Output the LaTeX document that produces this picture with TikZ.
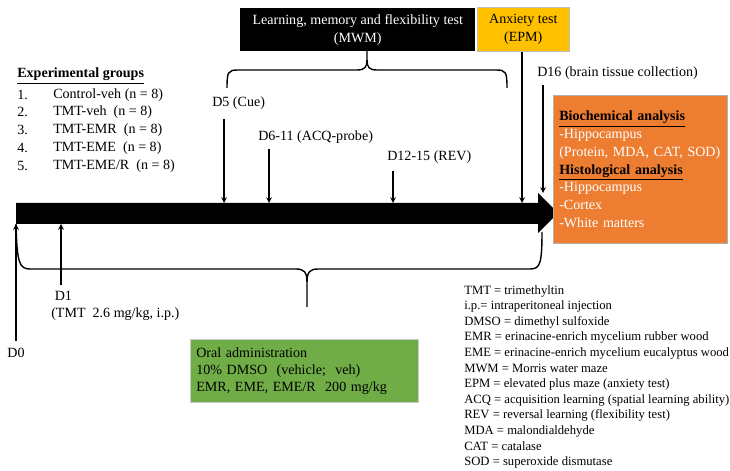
\documentclass[tikz,border=0pt]{standalone}
\usepackage{fontspec}
\setmainfont{Liberation Serif}
\definecolor{anxiety}{HTML}{FFC000}
\definecolor{analysis}{HTML}{ED7D31}
\definecolor{oral}{HTML}{70AD47}
\tikzset{
  lbl/.style={inner sep=0pt, font=\fontsize{10}{12}\selectfont},
  tick/.style={->, line width=0.8pt},
  brace/.style={line width=1pt},
  testbox/.style={inner sep=0pt, align=center, font=\fontsize{10}{12.5}\selectfont},
}
\begin{document}
\begin{tikzpicture}[>=stealth, x=0.025cm, y=-0.025cm]
  \useasboundingbox (0,0) rectangle (730,471);

  % timeline bar with its head
  \fill (16,203) -- (538,203) -- (538,193) -- (558,213) -- (538,233)
    -- (538,224) -- (16,224) -- cycle;
  \coordinate (b0) at (16,224);
  \coordinate (b1) at (61,224);
  \coordinate (t5) at (224,203);
  \coordinate (t6) at (269,203);
  \coordinate (t12) at (393,203);
  \coordinate (tepm) at (522,203);
  \coordinate (t16) at (543,193);

  % tests on top
  \node[testbox, fill=black, text=white, minimum width=235*0.025cm, minimum height=43*0.025cm,
    anchor=north west] (mwm) at (240,8) {Learning,\ memory\ and\ flexibility\ test\\(MWM)};
  \node[testbox, fill=anxiety, draw=black!25, minimum width=92*0.025cm, minimum height=44*0.025cm,
    anchor=north west] (epm) at (477,7) {Anxiety\ test\\(EPM)};
  \coordinate (mwmtip) at (367,51);
  \draw[brace] (227,88) .. controls (227,72) and (228,70) .. (238,70) -- (357,70)
    .. controls (365,70) and (367,67) .. (367,60) -- (mwmtip);
  \draw[brace] (507,88) .. controls (507,72) and (506,70) .. (496,70) -- (377,70)
    .. controls (369,70) and (367,67) .. (367,60);
  \draw[tick] (epm.south -| tepm) -- (tepm);

  % experimental groups
  \node[lbl, anchor=west] (groups) at (17,76) {\underline{\textbf{Experimental\ groups}}};
  \node[lbl, anchor=west] (n1) at (17,95) {1.};
  \node[lbl, anchor=west] (n2) at (17,112) {2.};
  \node[lbl, anchor=west] (n3) at (17,130) {3.};
  \node[lbl, anchor=west] (n4) at (17,148) {4.};
  \node[lbl, anchor=west] (n5) at (17,166) {5.};
  \node[lbl, anchor=west] (g1) at (53,95) {Control-veh\ (n = 8)};
  \node[lbl, anchor=west] (g2) at (53,112) {TMT-veh\ \ (n = 8)};
  \node[lbl, anchor=west] (g3) at (53,130) {TMT-EMR\ \ (n = 8)};
  \node[lbl, anchor=west] (g4) at (53,148) {TMT-EME\ \ (n = 8)};
  \node[lbl, anchor=west] (g5) at (53,166) {TMT-EME/R\ \ (n = 8)};

  % days above the bar
  \node[lbl, anchor=west] (d5) at (212,103) {D5 (Cue)};
  \node[lbl, anchor=west] (d6) at (258,137) {D6-11 (ACQ-probe)};
  \node[lbl, anchor=west] (d12) at (387,157) {D12-15 (REV)};
  \node[lbl, anchor=west] (d16) at (537,73) {D16 (brain\ tissue\ collection)};
  \draw[tick] ([yshift=-7pt]d5.south -| t5) -- (t5);
  \draw[tick] ([yshift=-4pt]d6.south -| t6) -- (t6);
  \draw[tick] ([yshift=-5pt]d12.south -| t12) -- (t12);
  \draw[tick] ([yshift=-4pt]d16.south -| t16) -- (t16);

  % analysis
  \node[fill=analysis, draw=black!30, text=white, anchor=north west, inner xsep=0.15cm,
    text width=4.05cm, minimum height=148*0.025cm, align=left,
    font=\fontsize{10}{12.6}\selectfont] (anal) at (553,95)
    {\textcolor{black}{\underline{\textbf{Biochemical\ analysis}}}\\
     -Hippocampus\\
     \mbox{(Protein, MDA, CAT, SOD)}\\
     \textcolor{black}{\underline{\textbf{Histological\ analysis}}}\\
     -Hippocampus\\
     -Cortex\\
     -White\ matters};

  % days below the bar
  \node[lbl] (d0) at (16,353) {D0};
  \draw[tick] ([yshift=5pt]d0.north) -- (b0);
  \node[lbl, anchor=north west, align=left] (d1) at (51,291) {\ D1\\(TMT\ \ 2.6 mg/kg,\ i.p.)};
  \draw[tick] ([yshift=4pt]d1.north -| b1) -- (b1);

  % oral administration span
  \draw[brace] (b0) .. controls (17,262) and (19,269) .. (30,269) -- (296,269)
    .. controls (304,269) and (307,272) .. (307,282) -- (307,307);
  \draw[brace] (542,232) .. controls (542,264) and (540,269) .. (530,269) -- (318,269)
    .. controls (310,269) and (307,272) .. (307,282);
  \node[fill=oral, draw=black!20, anchor=north west, inner xsep=0.15cm, text width=5.4cm,
    minimum height=63*0.025cm, align=left, font=\fontsize{10}{12}\selectfont] (oral) at (190,339)
    {Oral administration\\
     10\%\ DMSO\ \ (vehicle;\ \ veh)\\
     EMR, EME, EME/R\ \ 200 mg/kg};

  % abbreviations
  \node[inner sep=0pt, anchor=north west, align=left, font=\fontsize{9}{11.1}\selectfont] (abbr) at (464,285)
    {TMT = trimethyltin\\
     i.p.= intraperitoneal injection\\
     DMSO = dimethyl sulfoxide\\
     EMR = erinacine-enrich mycelium rubber wood\\
     EME = erinacine-enrich mycelium eucalyptus wood\\
     MWM = Morris water maze\\
     EPM = elevated plus maze (anxiety test)\\
     ACQ = acquisition learning (spatial learning ability)\\
     REV = reversal learning (flexibility test)\\
     MDA = malondialdehyde\\
     CAT = catalase\\
     SOD = superoxide dismutase};
\end{tikzpicture}
\end{document}
